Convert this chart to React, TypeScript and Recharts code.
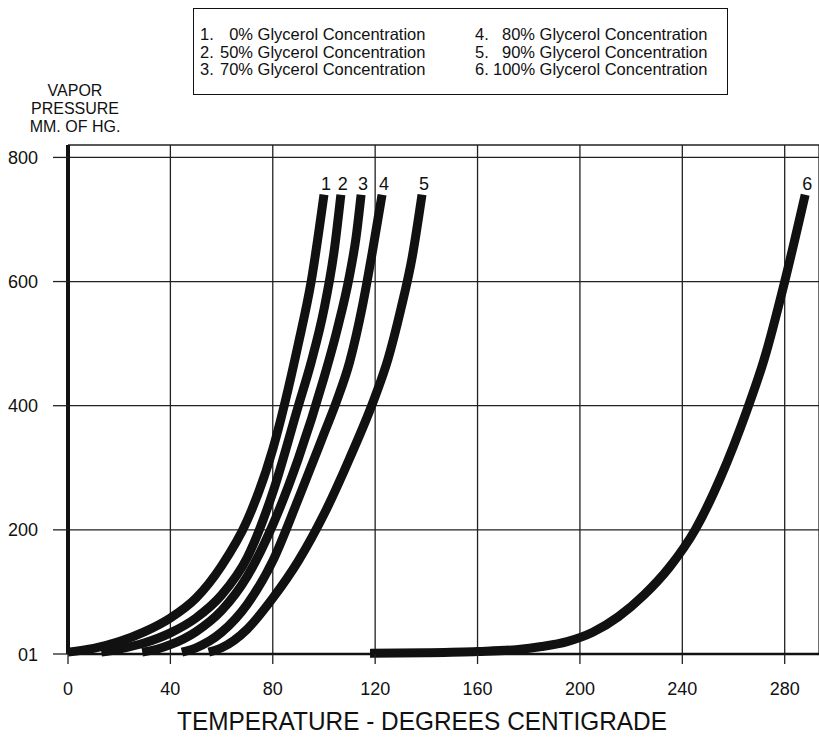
import { CartesianGrid, Line, LineChart, XAxis, YAxis } from "recharts";

// temperature (deg C) and vapor pressure (mm Hg)
const temps1 = [0, 10, 20, 30, 40, 50, 60, 70, 80, 90, 95, 100];
const vp1 = [3, 9, 20, 36, 58, 90, 142, 215, 330, 500, 600, 740];

const temps2 = [13, 20, 30, 40, 50, 60, 70, 80, 90, 95, 100, 104, 106.6];
const vp2 = [3, 8, 18, 34, 58, 95, 155, 260, 400, 470, 555, 650, 740];

const temps3 = [29, 35, 40, 50, 60, 70, 80, 90, 100, 105, 110, 112.5, 114.5];
const vp3 = [3, 8, 15, 36, 70, 125, 208, 315, 445, 520, 610, 670, 740];

const temps4 = [44.5, 50, 60, 70, 80, 90, 100, 105, 110, 115, 119, 122.7];
const vp4 = [3, 10, 35, 80, 150, 250, 355, 408, 470, 560, 650, 740];

const temps5 = [55, 60, 70, 80, 90, 100, 110, 120, 125, 130, 134.5, 138.3];
const vp5 = [3, 10, 40, 90, 150, 225, 315, 415, 475, 555, 640, 740];

const temps6 = [118, 140, 160, 175, 185, 195, 205, 215, 225, 235, 245, 255, 265, 272, 280, 288];
const vp6 = [1, 2, 4, 7, 12, 20, 35, 60, 95, 140, 200, 285, 390, 475, 600, 740];

const curveNames = ["1", "2", "3", "4", "5", "6"];
const legendNums = ["1.", "2.", "3.", "4.", "5.", "6."];
const legendPcts = ["0%", "50%", "70%", "80%", "90%", "100%"];

const xTicks = [0, 40, 80, 120, 160, 200, 240, 280];
const yTicks = [0, 200, 400, 600, 800];
const yTickLabels = ["01", "200", "400", "600", "800"];

const yTitle = ["VAPOR", "PRESSURE", "MM. OF HG."];
const xTitle = "TEMPERATURE - DEGREES CENTIGRADE";

const INK = "#111";
const FONT = "'Liberation Sans', Arial, Helvetica, sans-serif";

const curves = [
  [temps1, vp1],
  [temps2, vp2],
  [temps3, vp3],
  [temps4, vp4],
  [temps5, vp5],
  [temps6, vp6],
].map(([ts, vs], k) => ({
  name: curveNames[k],
  points: ts.map((t, i) => ({ t, vp: vs[i] })),
}));

function XTick(props: any) {
  const { x, y, payload } = props;
  return (
    <text x={x} y={y + 31} textAnchor="middle" fontSize={18} fill={INK} fontFamily={FONT}>
      {payload.value}
    </text>
  );
}

function YTick(props: any) {
  const { y, payload } = props;
  const i = yTicks.indexOf(payload.value);
  return (
    <text x={38} y={y + 6.5} textAnchor="end" fontSize={18} fill={INK} fontFamily={FONT}>
      {yTickLabels[i]}
    </text>
  );
}

function endLabel(name: string, last: number) {
  return (p: any) => {
    if (p.index !== last) return null;
    return (
      <text x={p.x + 2} y={p.y - 5} textAnchor="middle" fontSize={18} fill={INK} fontFamily={FONT}>
        {name}
      </text>
    );
  };
}

// legend column geometry: left offset, number width, percent width
const legendCols = [
  { left: 6, num: 19, pct: 34 },
  { left: 281, num: 18, pct: 42 },
];

export default function App() {
  return (
    <div
      style={{
        position: "absolute",
        left: 0,
        top: 0,
        width: 819,
        height: 739,
        background: "#fff",
        fontFamily: FONT,
        color: INK,
      }}
    >
      <LineChart width={819} height={739} margin={{ top: 145, right: 0, bottom: 0, left: 0 }}>
        <CartesianGrid stroke="#222" strokeWidth={1.3} />
        <XAxis
          dataKey="t"
          type="number"
          domain={[0, 293.4]}
          ticks={xTicks}
          height={85}
          tickSize={10}
          tickMargin={0}
          tick={<XTick />}
          tickLine={{ stroke: "#222", strokeWidth: 1.3 }}
          axisLine={{ stroke: INK, strokeWidth: 2.5 }}
        />
        <YAxis
          type="number"
          domain={[0, 820]}
          ticks={yTicks}
          width={68}
          tickSize={15}
          tick={<YTick />}
          tickLine={{ stroke: "#222", strokeWidth: 1.3 }}
          axisLine={{ stroke: INK, strokeWidth: 4 }}
        />
        {curves.map((c) => (
          <Line
            key={c.name}
            data={c.points}
            dataKey="vp"
            type="monotone"
            stroke={INK}
            strokeWidth={9}
            strokeLinecap="butt"
            dot={false}
            activeDot={false}
            isAnimationActive={false}
            label={endLabel(c.name, c.points.length - 1)}
          />
        ))}
      </LineChart>

      <div
        style={{
          position: "absolute",
          left: 193,
          top: 8,
          width: 535,
          height: 87,
          border: `1.5px solid ${INK}`,
          boxSizing: "border-box",
          fontSize: 16.5,
          lineHeight: "17.5px",
        }}
      >
        {legendCols.map((col, c) => (
          <div key={c} style={{ position: "absolute", left: col.left, top: 17 }}>
            {[0, 1, 2].map((r) => {
              const i = c * 3 + r;
              return (
                <div key={i} style={{ whiteSpace: "nowrap" }}>
                  <span style={{ display: "inline-block", width: col.num }}>{legendNums[i]}</span>
                  <span style={{ display: "inline-block", width: col.pct, textAlign: "right" }}>{legendPcts[i]}</span>
                  {" Glycerol Concentration"}
                </div>
              );
            })}
          </div>
        ))}
      </div>

      <div
        style={{
          position: "absolute",
          left: 15,
          top: 82,
          width: 120,
          textAlign: "center",
          fontSize: 16,
          lineHeight: "18px",
        }}
      >
        {yTitle.map((s) => (
          <div key={s}>{s}</div>
        ))}
      </div>

      <svg style={{ position: "absolute", left: 0, top: 0 }} width={819} height={739}>
        <text
          x={422}
          y={730}
          textAnchor="middle"
          fontSize={26}
          fill={INK}
          fontFamily={FONT}
          textLength={490}
          lengthAdjust="spacingAndGlyphs"
        >
          {xTitle}
        </text>
      </svg>
    </div>
  );
}
